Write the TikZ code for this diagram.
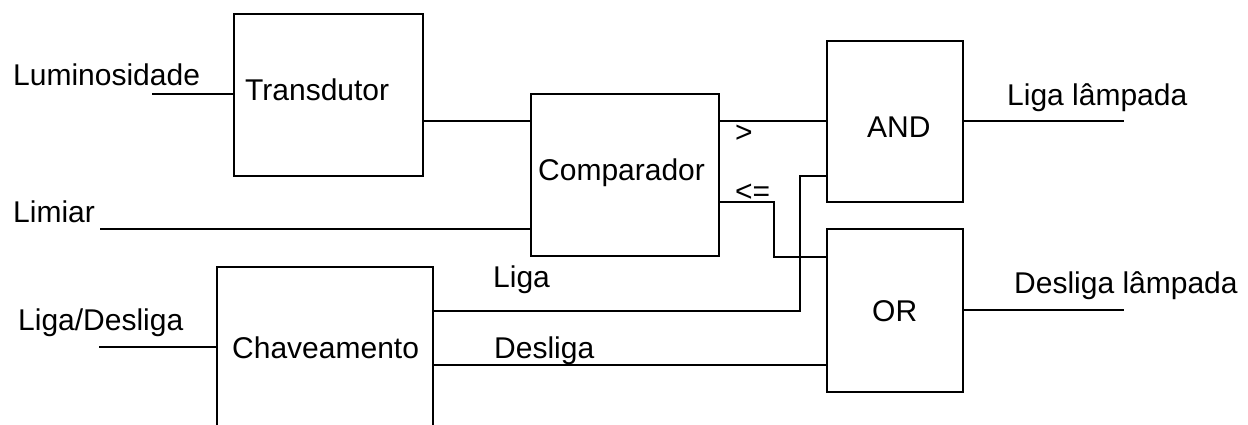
\documentclass[tikz,border=0pt]{standalone}
\usepackage{fontspec}
\setmainfont{Liberation Sans}
\begin{document}
\begin{tikzpicture}[x=1pt,y=-1pt,
  block/.style={draw=black, line width=1.8pt, rectangle, inner sep=0pt},
  wire/.style={draw=black, line width=1.8pt},
  lbl/.style={anchor=base west, inner sep=0pt, font=\fontsize{30}{36}\selectfont}]
\useasboundingbox (0,0) rectangle (1248,424);
\clip (0,0) rectangle (1248,424);

% blocks
\node[block, minimum width=189pt, minimum height=162pt] (trans) at (328.5,95) {};
\node[block, minimum width=188pt, minimum height=162pt] (comp) at (625,175) {};
\node[block, minimum width=136pt, minimum height=161pt] (and) at (895,121.5) {};
\node[block, minimum width=136pt, minimum height=163pt] (or) at (895,310.5) {};
\node[block, minimum width=216pt, minimum height=193pt] (chav) at (325,363.5) {};

% block captions
\node[lbl] (tTrans) at (245,100) {Transdutor};
\node[lbl] (tComp) at (538,180) {Comparador};
\node[lbl] (tAnd) at (867,137) {AND};
\node[lbl] (tOr) at (872,321) {OR};
\node[lbl] (tChav) at (232,358) {Chaveamento};

% signal names
\node[lbl] (tLum) at (13,85) {Luminosidade};
\node[lbl] (tLim) at (13,222) {Limiar};
\node[lbl] (tLD) at (18,330) {Liga/Desliga};
\node[lbl] (tGt) at (735,142) {>};
\node[lbl] (tLe) at (735,201) {<=};
\node[lbl] (tLiga) at (493,287) {Liga};
\node[lbl] (tDesl) at (494,358) {Desliga};
\node[lbl] (tLL) at (1007,105) {Liga lâmpada};
\node[lbl] (tDL) at (1014,293) {Desliga lâmpada};

% rows and free ends
\coordinate (r121) at (0,121);
\coordinate (r176) at (0,176);
\coordinate (r202) at (0,202);
\coordinate (r257) at (0,257);
\coordinate (r311) at (0,311);
\coordinate (r365) at (0,365);
\coordinate (inLum) at (152,94);
\coordinate (inLim) at (100,229);
\coordinate (inLD) at (99,347);
\coordinate (bendLe) at (774,202);
\coordinate (bendLiga) at (800,311);
\coordinate (outLiga) at (1124,121);
\coordinate (outDesl) at (1124,310);

% wiring
\draw[wire] (inLum) -- (inLum -| trans.west);
\draw[wire] (trans.east |- r121) -- (comp.west |- r121);
\draw[wire] (inLim) -- (inLim -| comp.west);
\draw[wire] (comp.east |- r121) -- (and.west |- r121);
\draw[wire] (comp.east |- r202) -- (bendLe) |- (or.west |- r257);
\draw[wire] (inLD) -- (inLD -| chav.west);
\draw[wire] (chav.east |- r311) -- (bendLiga) |- (and.west |- r176);
\draw[wire] (chav.east |- r365) -- (or.west |- r365);
\draw[wire] (and.east |- outLiga) -- (outLiga);
\draw[wire] (or.east |- outDesl) -- (outDesl);
\end{tikzpicture}
\end{document}
